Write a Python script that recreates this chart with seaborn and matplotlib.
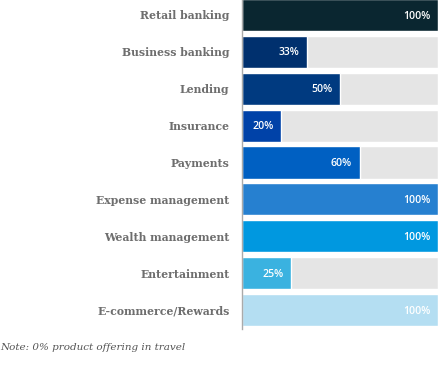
import matplotlib
matplotlib.use("Agg")
import matplotlib.pyplot as plt
import pandas as pd
import seaborn as sns

categories = [
    "Retail banking",
    "Business banking",
    "Lending",
    "Insurance",
    "Payments",
    "Expense management",
    "Wealth management",
    "Entertainment",
    "E-commerce/Rewards",
]
values = [100, 33, 50, 20, 60, 100, 100, 25, 100]
colors = [
    "#0a2630",
    "#00306e",
    "#003a80",
    "#0042a8",
    "#0060c2",
    "#2680d0",
    "#0098e0",
    "#3ab2e0",
    "#b4def2",
]
note = "Note: 0% product offering in travel"


def main():
    df = pd.DataFrame({"category": categories, "value": values, "track": [100] * len(categories)})

    sns.set_style("white")
    fig = plt.figure(figsize=(4.38, 3.82), dpi=100)
    top, bottom = -3.5, 328.5
    ax = fig.add_axes([242 / 438, 1 - bottom / 382, 1 - 242 / 438, (bottom - top) / 382])

    # grey track behind every bar, then the real values on top
    sns.barplot(df, x="track", y="category", color="#e5e5e5", width=0.87, ax=ax, saturation=1)
    sns.barplot(df, x="value", y="category", hue="category", palette=colors,
                width=0.87, ax=ax, saturation=1, legend=False)

    for i, v in enumerate(values):
        ax.text(v - 4, i + 0.03, f"{v}%", ha="right", va="center", color="white",
                fontsize=7.6, fontweight="semibold", family=["Open Sans", "DejaVu Sans"])

    ax.set_xlim(0, 100)
    ax.set_ylim(len(categories) - 0.5, -0.5)
    ax.set(xlabel="", ylabel="", xticks=[])
    ax.tick_params(axis="y", length=0, pad=9)
    for lbl in ax.get_yticklabels():
        lbl.set_family("DejaVu Serif")
        lbl.set_fontweight("bold")
        lbl.set_fontsize(7.8)
        lbl.set_color("#6e6e6e")
    for side in ["top", "right", "bottom"]:
        ax.spines[side].set_visible(False)
    ax.spines["left"].set_color("#aaaaaa")
    ax.spines["left"].set_linewidth(1)
    ax.spines["left"].set_zorder(5)

    fig.text(0.0, 1 - 348 / 382, note, ha="left", va="center",
             family="DejaVu Serif", style="italic", fontsize=7.5, color="#555555")

    fig.savefig("out.png", dpi=100)


if __name__ == "__main__":
    main()
